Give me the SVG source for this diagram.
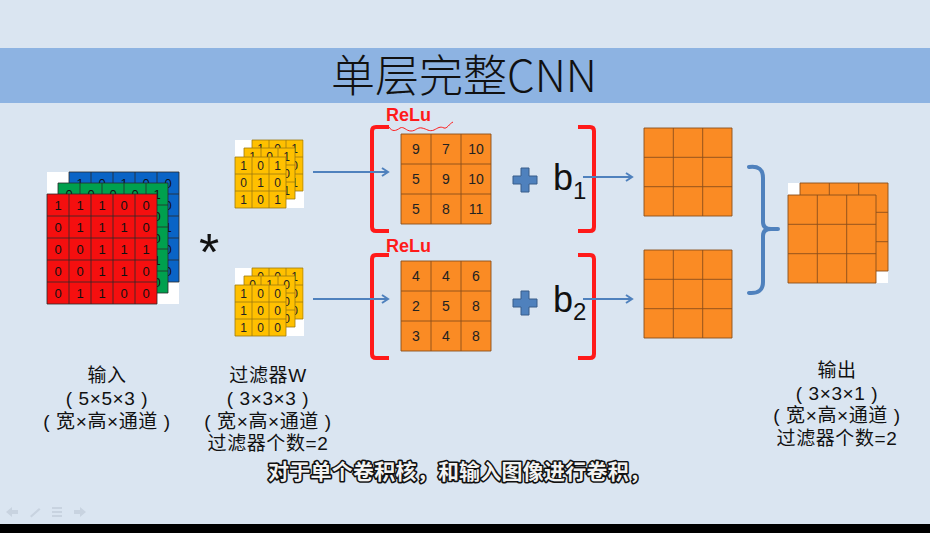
<svg xmlns="http://www.w3.org/2000/svg" width="930" height="533" viewBox="0 0 930 533">
<defs>
<style>
.dg{font-family:"Liberation Sans",Arial,sans-serif;font-size:13px;text-anchor:middle;fill:#111}
.df{font-family:"Liberation Sans",Arial,sans-serif;font-size:12px;text-anchor:middle;fill:#222}
.dm{font-family:"Liberation Sans",Arial,sans-serif;font-size:14px;text-anchor:middle;fill:#222}
.gl{fill:none;stroke:#2a2a2a;stroke-width:0.8}
.yl{fill:#FFC000}
.ylg{fill:none;stroke:#9C7A10;stroke-width:0.8}
.or{fill:#FA8B24}
.org{fill:none;stroke:#8A4E1C;stroke-width:0.9}
.lbl{font-family:"Liberation Sans","Noto Sans CJK SC","Noto Sans CJK JP",sans-serif;font-size:19px;letter-spacing:0.6px;text-anchor:middle;fill:#111}
.relu{font-family:"Liberation Sans",Arial,sans-serif;font-size:18px;font-weight:bold;fill:#FF1A1A}
.brk{fill:none;stroke:#FF1A1A;stroke-width:4;stroke-linejoin:round}
.arr{stroke:#4F81BD;stroke-width:2;fill:none}
.plus{fill:#4F81BD;stroke:#385D8A;stroke-width:1}
.bb{font-family:"Liberation Sans",Arial,sans-serif;font-size:36px;fill:#111}
</style>
<marker id="ah" markerWidth="10" markerHeight="10" refX="8" refY="5" orient="auto" markerUnits="userSpaceOnUse">
<path d="M2,1 L8,5 L2,9" fill="none" stroke="#4F81BD" stroke-width="2"/>
</marker>
</defs>
<rect x="0" y="0" width="930" height="533" fill="#DAE5F1"/>
<rect x="0" y="48" width="930" height="55" fill="#8DB3E2"/>
<text x="464" y="92" font-family="Noto Sans CJK SC,Noto Sans CJK JP,sans-serif" font-size="44" font-weight="300" text-anchor="middle" fill="#111">单层完整CNN</text>

<g id="input">
<rect x="47" y="172" width="132" height="132" fill="#fff"/>
<rect x="69" y="172" width="110" height="110" fill="#0A64C6"/>
<path class="gl" d="M69,172h110v110h-110z M91,172V282 M113,172V282 M135,172V282 M157,172V282 M69,194H179 M69,216H179 M69,238H179 M69,260H179"/>
<text class="dg" x="80" y="188">1</text><text class="dg" x="102" y="188">0</text><text class="dg" x="124" y="188">1</text><text class="dg" x="146" y="188">0</text><text class="dg" x="168" y="188">0</text>
<text class="dg" x="168" y="210">0</text><text class="dg" x="168" y="232">1</text><text class="dg" x="168" y="254">0</text><text class="dg" x="168" y="276">0</text>
<rect x="58" y="183" width="110" height="110" fill="#00A04E"/>
<path class="gl" d="M58,183h110v110h-110z M80,183V293 M102,183V293 M124,183V293 M146,183V293 M58,205H168 M58,227H168 M58,249H168 M58,271H168"/>
<text class="dg" x="69" y="199">0</text><text class="dg" x="91" y="199">0</text><text class="dg" x="113" y="199">0</text><text class="dg" x="135" y="199">0</text><text class="dg" x="157" y="199">1</text>
<text class="dg" x="157" y="221">0</text><text class="dg" x="157" y="243">0</text><text class="dg" x="157" y="265">1</text><text class="dg" x="157" y="287">0</text>
<rect x="47" y="194" width="110" height="110" fill="#F50F0F"/>
<path class="gl" d="M47,194h110v110h-110z M69,194V304 M91,194V304 M113,194V304 M135,194V304 M47,216H157 M47,238H157 M47,260H157 M47,282H157"/>
<text class="dg" x="58" y="210">1</text><text class="dg" x="80" y="210">1</text><text class="dg" x="102" y="210">1</text><text class="dg" x="124" y="210">0</text><text class="dg" x="146" y="210">0</text>
<text class="dg" x="58" y="232">0</text><text class="dg" x="80" y="232">1</text><text class="dg" x="102" y="232">1</text><text class="dg" x="124" y="232">1</text><text class="dg" x="146" y="232">0</text>
<text class="dg" x="58" y="254">0</text><text class="dg" x="80" y="254">0</text><text class="dg" x="102" y="254">1</text><text class="dg" x="124" y="254">1</text><text class="dg" x="146" y="254">1</text>
<text class="dg" x="58" y="276">0</text><text class="dg" x="80" y="276">0</text><text class="dg" x="102" y="276">1</text><text class="dg" x="124" y="276">1</text><text class="dg" x="146" y="276">0</text>
<text class="dg" x="58" y="298">0</text><text class="dg" x="80" y="298">1</text><text class="dg" x="102" y="298">1</text><text class="dg" x="124" y="298">0</text><text class="dg" x="146" y="298">0</text>
</g>

<text x="209" y="270" font-family="Liberation Sans,Arial,sans-serif" font-size="52" text-anchor="middle" fill="#111">*</text>

<g id="filter1">
<rect x="235" y="140" width="69" height="68" fill="#fff"/>
<rect class="yl" x="252" y="140" width="51" height="51"/>
<path class="ylg" d="M252,140h51v51h-51z M269,140V191 M286,140V191 M252,157H303 M252,174H303"/>
<text class="df" x="260.5" y="153">1</text><text class="df" x="277.5" y="153">0</text><text class="df" x="294.5" y="153">1</text>
<text class="df" x="294.5" y="170">0</text><text class="df" x="294.5" y="187">1</text>
<rect class="yl" x="244" y="148" width="51" height="51"/>
<path class="ylg" d="M244,148h51v51h-51z M261,148V199 M278,148V199 M244,165H295 M244,182H295"/>
<text class="df" x="252.5" y="161">1</text><text class="df" x="269.5" y="161">0</text><text class="df" x="286.5" y="161">1</text>
<text class="df" x="286.5" y="178">0</text><text class="df" x="286.5" y="195">1</text>
<rect class="yl" x="235" y="157" width="51" height="51"/>
<path class="ylg" d="M235,157h51v51h-51z M252,157V208 M269,157V208 M235,174H286 M235,191H286"/>
<text class="df" x="243.5" y="170">1</text><text class="df" x="260.5" y="170">0</text><text class="df" x="277.5" y="170">1</text>
<text class="df" x="243.5" y="187">0</text><text class="df" x="260.5" y="187">1</text><text class="df" x="277.5" y="187">0</text>
<text class="df" x="243.5" y="204">1</text><text class="df" x="260.5" y="204">0</text><text class="df" x="277.5" y="204">1</text>
</g>

<g id="filter2">
<rect x="235" y="268" width="69" height="68" fill="#fff"/>
<rect class="yl" x="252" y="268" width="51" height="51"/>
<path class="ylg" d="M252,268h51v51h-51z M269,268V319 M286,268V319 M252,285H303 M252,302H303"/>
<text class="df" x="260.5" y="281">0</text><text class="df" x="277.5" y="281">0</text><text class="df" x="294.5" y="281">1</text>
<text class="df" x="294.5" y="298">0</text><text class="df" x="294.5" y="315">0</text>
<rect class="yl" x="244" y="276" width="51" height="51"/>
<path class="ylg" d="M244,276h51v51h-51z M261,276V327 M278,276V327 M244,293H295 M244,310H295"/>
<text class="df" x="252.5" y="289">0</text><text class="df" x="269.5" y="289">1</text><text class="df" x="286.5" y="289">0</text>
<text class="df" x="286.5" y="306">0</text><text class="df" x="286.5" y="323">0</text>
<rect class="yl" x="235" y="285" width="51" height="51"/>
<path class="ylg" d="M235,285h51v51h-51z M252,285V336 M269,285V336 M235,302H286 M235,319H286"/>
<text class="df" x="243.5" y="298">1</text><text class="df" x="260.5" y="298">0</text><text class="df" x="277.5" y="298">0</text>
<text class="df" x="243.5" y="315">1</text><text class="df" x="260.5" y="315">0</text><text class="df" x="277.5" y="315">0</text>
<text class="df" x="243.5" y="332">1</text><text class="df" x="260.5" y="332">0</text><text class="df" x="277.5" y="332">0</text>
</g>

<g id="conv1">
<text class="relu" x="386" y="121">ReLu</text>
<path d="M389,127 C392,132 396,131 400,128 C404,126 406,131 411,131 C416,131 417,127 422,128 C427,129 429,132 434,130 C438,128 440,126 444,128 C447,129 449,124 453,122" fill="none" stroke="#FF1A1A" stroke-width="1"/>
<path class="brk" d="M389,127 H376 Q372,127 372,131 V227 Q372,231 376,231 H389"/>
<path class="brk" d="M578,127 H590 Q594,127 594,131 V227 Q594,231 590,231 H578"/>
<rect class="or" x="401" y="134" width="90" height="90"/>
<path class="org" d="M401,134h90v90h-90z M431,134V224 M461,134V224 M401,164H491 M401,194H491"/>
<text class="dm" x="416" y="154">9</text><text class="dm" x="446" y="154">7</text><text class="dm" x="476" y="154">10</text>
<text class="dm" x="416" y="184">5</text><text class="dm" x="446" y="184">9</text><text class="dm" x="476" y="184">10</text>
<text class="dm" x="416" y="214">5</text><text class="dm" x="446" y="214">8</text><text class="dm" x="476" y="214">11</text>
<path class="plus" d="M521,168 h8 v8 h8 v8 h-8 v8 h-8 v-8 h-8 v-8 h8 z"/>
<text class="bb" x="553" y="190">b<tspan font-size="24" dy="9">1</tspan></text>
</g>

<g id="conv2">
<text class="relu" x="386" y="252">ReLu</text>
<path class="brk" d="M389,255 H376 Q372,255 372,259 V354 Q372,358 376,358 H389"/>
<path class="brk" d="M578,255 H590 Q594,255 594,259 V354 Q594,358 590,358 H578"/>
<rect class="or" x="401" y="261" width="90" height="90"/>
<path class="org" d="M401,261h90v90h-90z M431,261V351 M461,261V351 M401,291H491 M401,321H491"/>
<text class="dm" x="416" y="281">4</text><text class="dm" x="446" y="281">4</text><text class="dm" x="476" y="281">6</text>
<text class="dm" x="416" y="311">2</text><text class="dm" x="446" y="311">5</text><text class="dm" x="476" y="311">8</text>
<text class="dm" x="416" y="341">3</text><text class="dm" x="446" y="341">4</text><text class="dm" x="476" y="341">8</text>
<path class="plus" d="M521,291 h8 v8 h8 v8 h-8 v8 h-8 v-8 h-8 v-8 h8 z"/>
<text class="bb" x="553" y="312">b<tspan font-size="24" dy="8">2</tspan></text>
</g>

<g id="out1">
<rect class="or" x="644" y="128" width="88" height="88"/>
<path class="org" d="M644,128h88v88h-88z M673.3,128V216 M702.7,128V216 M644,157.3H732 M644,186.7H732"/>
</g>
<g id="out2">
<rect class="or" x="644" y="250" width="88" height="88"/>
<path class="org" d="M644,250h88v88h-88z M673.3,250V338 M702.7,250V338 M644,279.3H732 M644,308.7H732"/>
</g>

<g id="output">
<rect x="788" y="183" width="100" height="100" fill="#fff"/>
<rect class="or" x="800" y="183" width="88" height="88"/>
<path class="org" d="M800,183h88v88h-88z M829.3,183V271 M858.7,183V271 M800,212.3H888 M800,241.7H888"/>
<rect class="or" x="788" y="195" width="88" height="88"/>
<path class="org" d="M788,195h88v88h-88z M817.3,195V283 M846.7,195V283 M788,224.3H876 M788,253.7H876"/>
</g>

<g id="connectors">
<line class="arr" x1="313" y1="172" x2="388" y2="172" marker-end="url(#ah)"/>
<line class="arr" x1="313" y1="299" x2="388" y2="299" marker-end="url(#ah)"/>
<line class="arr" x1="583" y1="177" x2="632" y2="177" marker-end="url(#ah)"/>
<line class="arr" x1="583" y1="299" x2="632" y2="299" marker-end="url(#ah)"/>
<path d="M749,167 Q763,165 763,178 V222 Q763,229 771,229 H778 M771,229 Q763,229 763,236 V282 Q763,294 749,293" fill="none" stroke="#4F81BD" stroke-width="4" stroke-linecap="round"/>
</g>

<g id="label-input">
<text class="lbl" x="107" y="382">输入</text>
<text class="lbl" x="107" y="405">( 5×5×3 )</text>
<text class="lbl" x="107" y="428">( 宽×高×通道 )</text>
</g>
<g id="label-filter">
<text class="lbl" x="268" y="382">过滤器W</text>
<text class="lbl" x="268" y="405">( 3×3×3 )</text>
<text class="lbl" x="268" y="428">( 宽×高×通道 )</text>
<text class="lbl" x="268" y="450">过滤器个数=2</text>
</g>
<g id="label-output">
<text class="lbl" x="837" y="377">输出</text>
<text class="lbl" x="837" y="400">( 3×3×1 )</text>
<text class="lbl" x="837" y="422">( 宽×高×通道 )</text>
<text class="lbl" x="837" y="445">过滤器个数=2</text>
</g>

<text x="268" y="479" font-family="Noto Sans CJK SC,Noto Sans CJK JP,sans-serif" font-size="21" font-weight="bold" fill="#F2F2F2" stroke="#111" stroke-width="3.2" paint-order="stroke" stroke-linejoin="round" textLength="382">对于单个卷积核，和输入图像进行卷积，</text>

<g fill="#C8D3E0" stroke="none">
<path d="M6,512 l6,-5 v3 h6 v4 h-6 v3 z"/>
<path d="M30,516 l9,-8 l1.5,1.5 l-9,8 z"/>
<path d="M52,507 h10 v2 h-10z M52,511 h10 v2 h-10z M52,515 h10 v2 h-10z"/>
<path d="M86,512 l-6,-5 v3 h-6 v4 h6 v3 z"/>
</g>
<rect x="0" y="524" width="930" height="9" fill="#000"/>
</svg>
